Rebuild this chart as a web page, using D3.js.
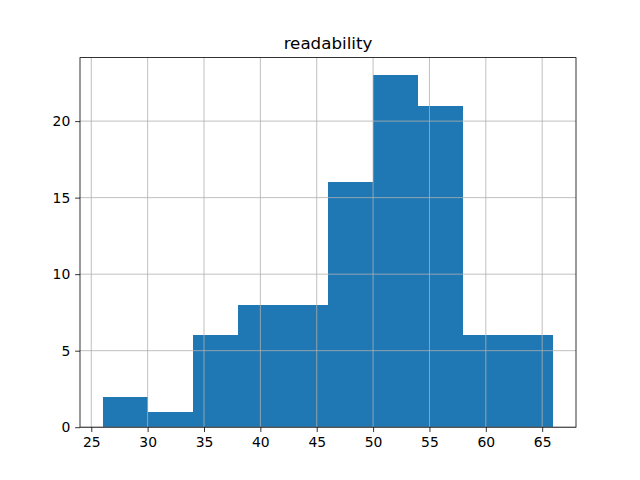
<!DOCTYPE html>
<html>
<head>
<meta charset="utf-8">
<script src="https://cdn.jsdelivr.net/npm/d3@7"></script>
<style>
  body { margin: 0; background: #fff; }
  svg { display: block; }
</style>
</head>
<body>
<div id="chart"></div>
<script>
// Histogram of "readability" (10 bins, width 4)
const binEdges = [26, 30, 34, 38, 42, 46, 50, 54, 58, 62, 66];
const counts = [2, 1, 6, 8, 8, 16, 23, 21, 6, 6];
const xTicks = [25, 30, 35, 40, 45, 50, 55, 60, 65];
const yTicks = [0, 5, 10, 15, 20];

const width = 640, height = 480;
const margin = { top: 57.6, right: 64, bottom: 52.8, left: 80 };
const iw = width - margin.left - margin.right;
const ih = height - margin.top - margin.bottom;

const bins = counts.map((c, i) => ({ x0: binEdges[i], x1: binEdges[i + 1], n: c }));

const svg = d3.select("#chart").append("svg")
  .attr("width", width)
  .attr("height", height)
  .style("font-family", "'DejaVu Sans', sans-serif");

const g = svg.append("g").attr("transform", `translate(${margin.left},${margin.top})`);

const x = d3.scaleLinear().domain([24, 68]).range([0, iw]);
const y = d3.scaleLinear().domain([0, 23 * 1.05]).range([ih, 0]);

// bars (crisp edges so neighbouring bins don't show a seam)
g.selectAll("rect.bar")
  .data(bins)
  .join("rect")
  .attr("class", "bar")
  .attr("x", d => x(d.x0))
  .attr("width", d => x(d.x1) - x(d.x0))
  .attr("y", d => y(d.n))
  .attr("height", d => y(0) - y(d.n))
  .attr("fill", "#1f77b4")
  .attr("shape-rendering", "crispEdges");

// grid on top of the bars
const grid = g.append("g").attr("stroke", "#b0b0b0").attr("stroke-width", 0.8);
grid.selectAll("line.vx").data(xTicks).join("line")
  .attr("x1", d => x(d)).attr("x2", d => x(d))
  .attr("y1", 0).attr("y2", ih);
grid.selectAll("line.hy").data(yTicks).join("line")
  .attr("x1", 0).attr("x2", iw)
  .attr("y1", d => y(d)).attr("y2", d => y(d));

// axes
const xAxis = g.append("g")
  .attr("transform", `translate(0,${ih})`)
  .call(d3.axisBottom(x).tickValues(xTicks).tickSize(4.86).tickPadding(4.86).tickSizeOuter(0));
const yAxis = g.append("g")
  .call(d3.axisLeft(y).tickValues(yTicks).tickSize(4.86).tickPadding(4.86).tickSizeOuter(0));

[xAxis, yAxis].forEach(a => {
  a.select(".domain").remove();
  a.selectAll(".tick line").attr("stroke", "#000").attr("stroke-width", 0.8);
  a.selectAll(".tick text")
    .attr("fill", "#000")
    .style("font-size", "13.9px")
    .style("font-family", "'DejaVu Sans', sans-serif");
});

// spines
g.append("rect")
  .attr("x", 0).attr("y", 0)
  .attr("width", iw).attr("height", ih)
  .attr("fill", "none")
  .attr("stroke", "#000")
  .attr("stroke-width", 0.8);

// title
g.append("text")
  .attr("x", iw / 2)
  .attr("y", -8.8)
  .attr("text-anchor", "middle")
  .style("font-size", "16.7px")
  .attr("fill", "#000")
  .text("readability");
</script>
</body>
</html>
